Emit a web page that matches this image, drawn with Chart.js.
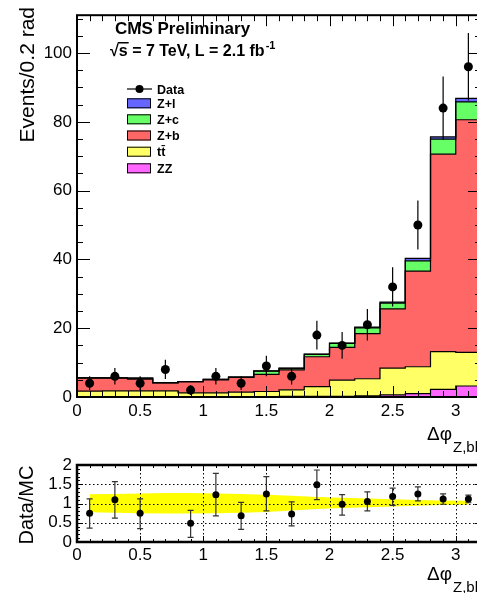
<!DOCTYPE html>
<html lang="en">
<head>
<meta charset="UTF-8">
<title>Delta phi Z,bb</title>
<script src="https://cdn.jsdelivr.net/npm/chart.js"></script>
<style>
 body { margin: 0; background: #fff; overflow: hidden; }
 #wrap { position: relative; width: 477px; height: 593px; overflow: hidden; }
 canvas { position: absolute; left: 0; top: 0; }
</style>
</head>
<body>
<div id="wrap">
 <canvas id="mainChart" width="490" height="593"></canvas>
 <canvas id="ratioChart" width="490" height="593"></canvas>
</div>
<script>
// bins of 0.2 rad: low edges and centres
const binEdges = [0, 0.2, 0.4, 0.6, 0.8, 1.0, 1.2, 1.4, 1.6, 1.8, 2.0, 2.2, 2.4, 2.6, 2.8, 3.0];
const binUpper = 3.2;
const binCenters = [0.1, 0.3, 0.5, 0.7, 0.9, 1.1, 1.3, 1.5, 1.7, 1.9, 2.1, 2.3, 2.5, 2.7, 2.9, 3.1];

// MC stack, bottom to top
const zz  = [0.1, 0.1, 0.1, 0.1, 0.1, 0.1, 0.1, 0.1, 0.2, 0.2, 0.2, 0.3, 0.6, 1.0, 2.2, 3.2];
const ttbar = [1.6, 1.7, 1.7, 1.7, 1.1, 1.1, 1.3, 1.5, 1.9, 2.8, 4.7, 5.0, 7.8, 7.8, 11.0, 9.8];
const zb  = [3.8, 3.7, 3.4, 2.3, 3.2, 3.8, 4.3, 5.0, 5.8, 8.7, 9.5, 13.1, 17.2, 27.8, 57.4, 67.6];
const zc  = [0.1, 0.1, 0.3, 0.1, 0.1, 0.1, 0.1, 0.9, 0.4, 0.7, 1.2, 1.7, 1.7, 3.0, 4.4, 5.2];
const zl  = [0, 0, 0, 0, 0, 0, 0, 0.1, 0.1, 0.1, 0.1, 0.2, 0.3, 0.7, 0.6, 1.0];

// data
const dataCounts = [4, 6, 4, 8, 2, 6, 4, 9, 6, 18, 15, 21, 32, 50, 84, 96];
const dataErr = [2.0, 2.4, 2.0, 2.8, 1.4, 2.4, 2.0, 3.0, 2.4, 4.2, 3.9, 4.6, 5.7, 7.1, 9.2, 9.8];

// ratio pad
const ratio   = [0.75, 1.10, 0.75, null, 0.49, 1.23, 0.68, 1.25, 0.73, 1.49, 0.98, 1.05, 1.18, 1.25, 1.12, 1.12];
const ratioUp = [0.37, 0.47, 0.37, null, 0.33, 0.55, 0.35, 0.45, 0.31, 0.38, 0.25, 0.25, 0.22, 0.18, 0.13, 0.10];
const ratioDn = [0.39, 0.48, 0.40, null, 0.37, 0.55, 0.35, 0.44, 0.31, 0.39, 0.28, 0.24, 0.23, 0.18, 0.14, 0.10];
const bandHi  = [1.24, 1.25, 1.26, 1.27, 1.27, 1.26, 1.25, 1.23, 1.20, 1.17, 1.15, 1.13, 1.11, 1.09, 1.08, 1.07];
const bandLo  = [0.77, 0.76, 0.75, 0.74, 0.74, 0.75, 0.76, 0.78, 0.82, 0.86, 0.88, 0.90, 0.92, 0.94, 0.96, 0.97];

// tick labels
const xTickValues = [0, 0.5, 1, 1.5, 2, 2.5, 3];
const xTickLabels = ['0', '0.5', '1', '1.5', '2', '2.5', '3'];
const yTickValues = [0, 20, 40, 60, 80, 100];
const yTickLabels = ['0', '20', '40', '60', '80', '100'];
const rTickValues = [0, 0.5, 1, 1.5, 2];
const rTickLabels = ['0', '0.5', '1', '1.5', '2'];

const FONT = '"Liberation Sans", Arial, Helvetica, sans-serif';
Chart.defaults.font.family = FONT;
Chart.defaults.color = '#000';

const stackDefs = [
  ['ZZ', zz, '#ff66ff'],
  ['tt', ttbar, '#ffff66'],
  ['Z+b', zb, '#ff6666'],
  ['Z+c', zc, '#66ff66'],
  ['Z+l', zl, '#6666ff'],
];

// histogram outline: each value holds from its low edge to the next edge
function stepPoints(vals) {
  const pts = binEdges.map((x, i) => ({ x: x, y: vals[i] }));
  pts.push({ x: binUpper, y: vals[vals.length - 1] });
  return pts;
}

let running = binEdges.map(() => 0);
const histSets = stackDefs.map(([name, vals, col], k) => {
  running = running.map((r, i) => r + vals[i]);
  return {
    label: name, data: stepPoints(running), stepped: 'before',
    backgroundColor: col, borderColor: '#000', borderWidth: 1.2,
    pointRadius: 0, fill: k === 0 ? 'origin' : '-1', order: 1
  };
});

// frame, inward ticks, optional dotted grid
function drawFrame(chart, o) {
  const ctx = chart.ctx, a = chart.chartArea;
  const xs = chart.scales.x, ys = chart.scales.y;
  ctx.save();
  if (o.grid) {
    ctx.strokeStyle = '#000'; ctx.lineWidth = 1; ctx.setLineDash([1.5, 2.5]);
    [0.5, 1, 1.5, 2, 2.5, 3].forEach(v => {
      const px = Math.round(xs.getPixelForValue(v)) + 0.5;
      ctx.beginPath(); ctx.moveTo(px, a.top); ctx.lineTo(px, a.bottom); ctx.stroke();
    });
    [0.5, 1, 1.5].forEach(v => {
      const py = Math.round(ys.getPixelForValue(v)) + 0.5;
      ctx.beginPath(); ctx.moveTo(a.left, py); ctx.lineTo(a.right, py); ctx.stroke();
    });
    ctx.setLineDash([]);
  }
  ctx.strokeStyle = '#000'; ctx.lineWidth = 1;
  for (let i = 0; i <= 32; i++) {
    const v = i / 10, px = Math.round(xs.getPixelForValue(v)) + 0.5;
    const len = (i % 5 === 0) ? o.xMaj : o.xMin;
    ctx.beginPath();
    ctx.moveTo(px, a.bottom); ctx.lineTo(px, a.bottom - len);
    ctx.moveTo(px, a.top); ctx.lineTo(px, a.top + len);
    ctx.stroke();
  }
  for (let v = 0; v <= ys.max + 1e-9; v += o.yStep) {
    const py = Math.round(ys.getPixelForValue(v)) + 0.5;
    const major = Math.abs(v / o.yMajStep - Math.round(v / o.yMajStep)) < 1e-6;
    const len = major ? o.yMaj : o.yMin;
    ctx.beginPath();
    ctx.moveTo(a.left, py); ctx.lineTo(a.left + len, py);
    ctx.moveTo(a.right, py); ctx.lineTo(a.right - len, py);
    ctx.stroke();
  }
  ctx.lineWidth = o.frame;
  ctx.strokeRect(a.left, a.top, a.right - a.left, a.bottom - a.top);
  ctx.restore();
}

function drawErrors(chart, o) {
  const ctx = chart.ctx, xs = chart.scales.x, ys = chart.scales.y;
  ctx.save();
  ctx.strokeStyle = o.color; ctx.lineWidth = o.width;
  o.x.forEach((x, i) => {
    if (o.y[i] === null) return;
    const px = xs.getPixelForValue(x);
    const y1 = ys.getPixelForValue(o.y[i] + o.up[i]);
    const y2 = ys.getPixelForValue(Math.max(0, o.y[i] - o.dn[i]));
    ctx.beginPath(); ctx.moveTo(px, y1); ctx.lineTo(px, y2);
    if (o.cap) {
      ctx.moveTo(px - o.cap, y1); ctx.lineTo(px + o.cap, y1);
      ctx.moveTo(px - o.cap, y2); ctx.lineTo(px + o.cap, y2);
    }
    ctx.stroke();
  });
  ctx.restore();
}

function drawXTitle(ctx, x, y) {
  ctx.save();
  ctx.fillStyle = '#000'; ctx.textAlign = 'left'; ctx.textBaseline = 'alphabetic';
  ctx.font = '19px ' + FONT;
  ctx.fillText('\u0394\u03c6', x, y);
  const w = ctx.measureText('\u0394\u03c6').width;
  ctx.font = '15px ' + FONT;
  ctx.fillText('Z,bb', x + w + 1, y + 12);
  ctx.restore();
}

const mainDecor = {
  id: 'mainDecor',
  afterDatasetsDraw(chart) {
    drawErrors(chart, { x: binCenters, y: dataCounts, up: dataErr, dn: dataErr, color: '#000', width: 1.2, cap: 0 });
    drawFrame(chart, { xMaj: 11, xMin: 6, yStep: 5, yMajStep: 20, yMaj: 13, yMin: 6, frame: 2 });
  },
  afterDraw(chart) {
    const ctx = chart.ctx;
    ctx.save();
    ctx.fillStyle = '#000';
    // y title
    ctx.save();
    ctx.translate(33.5, 7); ctx.rotate(-Math.PI / 2);
    ctx.font = '21px ' + FONT; ctx.textAlign = 'right'; ctx.textBaseline = 'alphabetic';
    ctx.fillText('Events/0.2 rad', 0, 0);
    ctx.restore();
    // CMS labels
    ctx.textAlign = 'left'; ctx.textBaseline = 'alphabetic';
    ctx.font = 'bold 17px ' + FONT;
    ctx.fillText('CMS Preliminary', 115, 34);
    ctx.font = 'bold 16px ' + FONT;
    ctx.fillText('\u221a', 110, 56);
    const sx = 110 + ctx.measureText('\u221a').width;
    ctx.fillText('s', sx, 56);
    const sw = ctx.measureText('s').width;
    ctx.fillRect(sx - 1, 42, sw + 2, 1.5);
    const rest = ' = 7 TeV, L = 2.1 fb';
    ctx.fillText(rest, sx + sw, 56);
    const ex = sx + sw + ctx.measureText(rest).width;
    ctx.font = 'bold 11px ' + FONT;
    ctx.fillText('-1', ex + 1, 49);
    // legend
    ctx.strokeStyle = '#000'; ctx.lineWidth = 1.2;
    ctx.beginPath(); ctx.moveTo(127, 89); ctx.lineTo(152, 89); ctx.stroke();
    ctx.beginPath(); ctx.arc(139.5, 89, 4, 0, Math.PI * 2); ctx.fill();
    ctx.font = 'bold 12.5px ' + FONT;
    ctx.fillText('Data', 157, 93.5);
    const rows = [['Z+l', '#6666ff', 103.3], ['Z+c', '#66ff66', 119.3], ['Z+b', '#ff6666', 135.5],
                  ['tt\u0304', '#ffff66', 151.7], ['ZZ', '#ff66ff', 168.3]];
    rows.forEach(([t, c, cy]) => {
      ctx.fillStyle = c; ctx.fillRect(127, cy - 5, 24, 10);
      ctx.strokeStyle = '#000'; ctx.lineWidth = 1; ctx.strokeRect(127.5, cy - 4.5, 23, 9);
      ctx.fillStyle = '#000'; ctx.fillText(t, 157, cy + 4.5);
    });
    ctx.restore();
    drawXTitle(ctx, 427, 440);
  }
};

const ratioDecor = {
  id: 'ratioDecor',
  afterDatasetsDraw(chart) {
    drawFrame(chart, { grid: true, xMaj: 6, xMin: 3, yStep: 0.1, yMajStep: 0.5, yMaj: 6, yMin: 3, frame: 2.5 });
    drawErrors(chart, { x: binCenters, y: ratio, up: ratioUp, dn: ratioDn, color: '#333', width: 1.2, cap: 3 });
    const ctx = chart.ctx, xs = chart.scales.x, ys = chart.scales.y;
    ctx.save(); ctx.fillStyle = '#000';
    binCenters.forEach((x, i) => {
      if (ratio[i] === null) return;
      ctx.beginPath(); ctx.arc(xs.getPixelForValue(x), ys.getPixelForValue(ratio[i]), 3.5, 0, Math.PI * 2); ctx.fill();
    });
    ctx.restore();
  },
  afterDraw(chart) {
    const ctx = chart.ctx;
    ctx.save();
    ctx.fillStyle = '#000';
    ctx.translate(33, 505); ctx.rotate(-Math.PI / 2);
    ctx.font = '20px ' + FONT; ctx.textAlign = 'center'; ctx.textBaseline = 'alphabetic';
    ctx.fillText('Data/MC', 0, 0);
    ctx.restore();
    drawXTitle(ctx, 427, 580);
  }
};

function xScale(padding) {
  return {
    type: 'linear', min: 0, max: binUpper,
    grid: { display: false, drawTicks: false }, border: { display: false },
    ticks: { font: { size: 17 }, color: '#000', padding: padding, autoSkip: false, maxRotation: 0,
             callback: (v, i) => xTickLabels[i] },
    afterBuildTicks: s => { s.ticks = xTickValues.map(v => ({ value: v })); },
    afterFit: s => { s.height = 40; }
  };
}

function yScale(max, values, labels) {
  return {
    type: 'linear', min: 0, max: max,
    grid: { display: false, drawTicks: false }, border: { display: false },
    ticks: { font: { size: 17 }, color: '#000', padding: 5, autoSkip: false,
             callback: (v, i) => labels[i] },
    afterBuildTicks: s => { s.ticks = values.map(v => ({ value: v })); },
    afterFit: s => { s.width = 77; }
  };
}

const pointSet = {
  label: 'Data', data: binCenters.map((x, i) => ({ x: x, y: dataCounts[i] })),
  showLine: false, pointRadius: 4.5, pointBackgroundColor: '#000', pointBorderWidth: 0,
  fill: false, order: -1
};

new Chart(document.getElementById('mainChart'), {
  type: 'line',
  data: { datasets: histSets.concat([pointSet]) },
  options: {
    responsive: false, animation: false, events: [],
    layout: { padding: { top: 8, right: 9, bottom: 156, left: 0 } },
    plugins: { legend: { display: false }, tooltip: { enabled: false }, filler: { drawTime: 'beforeDatasetsDraw' } },
    scales: { x: xScale(4), y: yScale(111, yTickValues, yTickLabels) }
  },
  plugins: [mainDecor]
});

new Chart(document.getElementById('ratioChart'), {
  type: 'line',
  data: {
    datasets: [
      { label: 'band hi', data: binCenters.map((x, i) => ({ x: x, y: bandHi[i] })), borderWidth: 0, pointRadius: 0, fill: false },
      { label: 'band lo', data: binCenters.map((x, i) => ({ x: x, y: bandLo[i] })), borderWidth: 0, pointRadius: 0,
        fill: '-1', backgroundColor: '#ffff00' }
    ]
  },
  options: {
    responsive: false, animation: false, events: [],
    layout: { padding: { top: 465, right: 9, bottom: 11, left: 0 } },
    plugins: { legend: { display: false }, tooltip: { enabled: false }, filler: { drawTime: 'beforeDatasetsDraw' } },
    scales: { x: xScale(3), y: yScale(2, rTickValues, rTickLabels) }
  },
  plugins: [ratioDecor]
});
</script>
</body>
</html>
